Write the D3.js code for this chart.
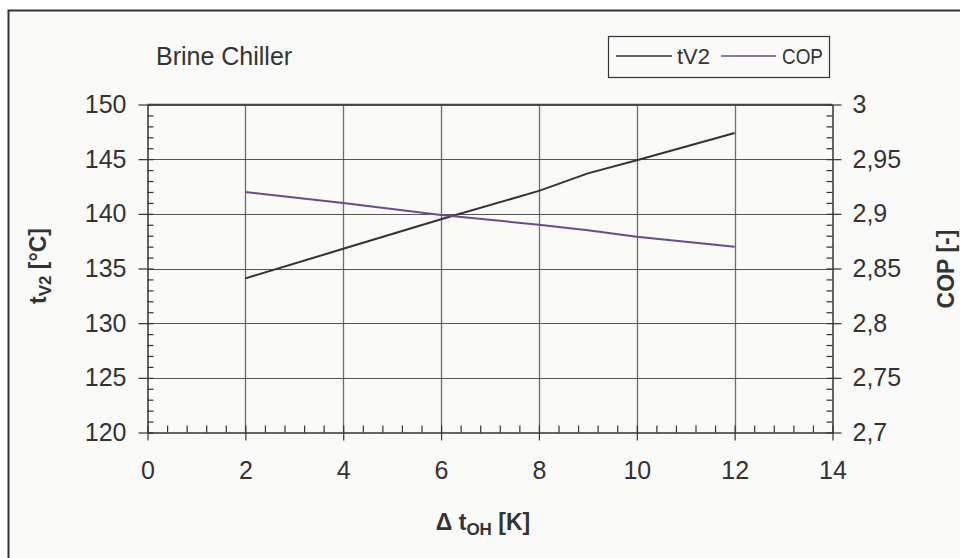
<!DOCTYPE html>
<html>
<head>
<meta charset="utf-8">
<script src="https://cdn.jsdelivr.net/npm/d3@7/dist/d3.min.js"></script>
<style>
  html, body { margin: 0; padding: 0; background: #ffffff; }
  svg { display: block; font-family: "Liberation Sans", Arial, sans-serif; }
  text { fill: #333333; }
</style>
</head>
<body>
<svg id="chart" width="960" height="558"></svg>
<script>
// Superheat Δt_OH [K] at each operating point
const superheat = [2, 4, 6, 8, 9, 10, 12];
// Discharge temperature t_V2 [°C]
const tV2 = [134.1, 136.8, 139.5, 142.1, 143.7, 144.9, 147.4];
// Coefficient of performance [-]
const cop = [2.920, 2.910, 2.899, 2.890, 2.885, 2.879, 2.870];

const xTicks = [0, 2, 4, 6, 8, 10, 12, 14];
const leftTicks = [120, 125, 130, 135, 140, 145, 150];
const rightTicks = [2.7, 2.75, 2.8, 2.85, 2.9, 2.95, 3.0];

const seriesNames = ["tV2", "COP"];
const seriesColors = ["#333333", "#6a4c8c"];

const svg = d3.select("#chart");

// outer chart frame (extends past the right and bottom edges)
svg.append("rect")
  .attr("x", 8.5).attr("y", 10.5)
  .attr("width", 1000).attr("height", 600)
  .attr("fill", "#fafaf8")
  .attr("stroke", "#333").attr("stroke-width", 2);

const plot = { left: 147.5, right: 832.5, top: 104.5, bottom: 432.5 };

const x = d3.scaleLinear().domain([0, 14]).range([plot.left, plot.right]);
const yL = d3.scaleLinear().domain([120, 150]).range([plot.bottom, plot.top]);
const yR = d3.scaleLinear().domain([2.7, 3.0]).range([plot.bottom, plot.top]);

const fmtComma = v => d3.format("~g")(+v.toFixed(2)).replace(".", ",");

// grid
const grid = svg.append("g");
grid.selectAll(".vg").data(xTicks.filter(d => d > 0 && d < 14)).join("line")
  .attr("x1", d => Math.round(x(d)) + 0.5).attr("x2", d => Math.round(x(d)) + 0.5)
  .attr("y1", plot.top).attr("y2", plot.bottom)
  .attr("stroke", "#6e6e6e").attr("stroke-width", 1.3);
grid.selectAll(".hg").data(leftTicks.filter(d => d > 120)).join("line")
  .attr("x1", plot.left).attr("x2", plot.right)
  .attr("y1", d => Math.round(yL(d)) + 0.5).attr("y2", d => Math.round(yL(d)) + 0.5)
  .attr("stroke", "#555").attr("stroke-width", 1.2);

// minor ticks (inward)
const xMinor = d3.range(0, 36).map(i => +(i * 0.4).toFixed(1));
const lMinor = d3.range(120, 151, 1);
const rMinor = d3.range(0, 31).map(i => +(2.7 + i * 0.01).toFixed(2));

function styleAxis(g) {
  g.select(".domain").attr("stroke", "#333").attr("stroke-width", 1.5);
  g.selectAll(".tick line").attr("stroke", "#333").attr("stroke-width", 1.2);
  g.selectAll("text").attr("fill", "#333").style("font-size", "25px")
    .style("font-family", "'Liberation Sans', Arial, sans-serif");
}

svg.append("g").attr("transform", `translate(0,${plot.bottom})`)
  .call(d3.axisBottom(x).tickValues(xMinor).tickSize(-7).tickFormat(""))
  .call(g => { styleAxis(g); g.select(".domain").remove(); });
svg.append("g").attr("transform", `translate(${plot.left},0)`)
  .call(d3.axisLeft(yL).tickValues(lMinor).tickSize(-6).tickFormat(""))
  .call(g => { styleAxis(g); g.select(".domain").remove(); });
svg.append("g").attr("transform", `translate(${plot.right},0)`)
  .call(d3.axisRight(yR).tickValues(rMinor).tickSize(-6).tickFormat(""))
  .call(g => { styleAxis(g); g.select(".domain").remove(); });

// major axes (outward ticks with labels)
svg.append("g").attr("transform", `translate(0,${plot.bottom})`)
  .call(d3.axisBottom(x).tickValues(xTicks).tickSize(8).tickSizeOuter(0).tickPadding(21).tickFormat(d3.format("d")))
  .call(styleAxis);
svg.append("g").attr("transform", `translate(${plot.left},0)`)
  .call(d3.axisLeft(yL).tickValues(leftTicks).tickSize(9).tickSizeOuter(0).tickPadding(12).tickFormat(d3.format("d")))
  .call(styleAxis);
svg.append("g").attr("transform", `translate(${plot.right},0)`)
  .call(d3.axisRight(yR).tickValues(rightTicks).tickSize(9).tickSizeOuter(0).tickPadding(11).tickFormat(fmtComma))
  .call(styleAxis);

// top border of plot area
svg.append("line")
  .attr("x1", plot.left).attr("x2", plot.right)
  .attr("y1", plot.top).attr("y2", plot.top)
  .attr("stroke", "#444").attr("stroke-width", 1.3);

// series
const lineT = d3.line().x((d, i) => x(superheat[i])).y(d => yL(d));
const lineC = d3.line().x((d, i) => x(superheat[i])).y(d => yR(d));
svg.append("path").datum(tV2).attr("d", lineT)
  .attr("fill", "none").attr("stroke", seriesColors[0]).attr("stroke-width", 2);
svg.append("path").datum(cop).attr("d", lineC)
  .attr("fill", "none").attr("stroke", seriesColors[1]).attr("stroke-width", 2);

// title
svg.append("text").attr("x", 156).attr("y", 65)
  .style("font-size", "25px").text("Brine Chiller");

// legend
const lg = svg.append("g");
lg.append("rect").attr("x", 608.5).attr("y", 36.5).attr("width", 221).attr("height", 41)
  .attr("fill", "#fafaf8").attr("stroke", "#333").attr("stroke-width", 1.2);
const legendItems = [
  { lx1: 616, lx2: 672, tx: 677, tw: 33 },
  { lx1: 721, lx2: 776, tx: 782, tw: 41 }
];
legendItems.forEach((it, i) => {
  lg.append("line").attr("x1", it.lx1).attr("x2", it.lx2).attr("y1", 56).attr("y2", 56)
    .attr("stroke", seriesColors[i]).attr("stroke-width", 1.5);
  lg.append("text").attr("x", it.tx).attr("y", 64)
    .attr("textLength", it.tw).attr("lengthAdjust", "spacingAndGlyphs")
    .style("font-size", "22px").text(seriesNames[i]);
});

// axis titles
const xt = svg.append("text").attr("x", 483).attr("y", 530)
  .attr("text-anchor", "middle").style("font-size", "23px").style("font-weight", "bold");
xt.append("tspan").text("Δ t");
xt.append("tspan").attr("dy", 5).style("font-size", "17px").text("OH");
xt.append("tspan").attr("dy", -5).text(" [K]");

const yt = svg.append("text")
  .attr("transform", "translate(46,266) rotate(-90)")
  .attr("text-anchor", "middle").style("font-size", "23px").style("font-weight", "bold");
yt.append("tspan").text("t");
yt.append("tspan").attr("dy", 5).style("font-size", "17px").text("V2");
yt.append("tspan").attr("dy", -5).text(" [°C]");

svg.append("text")
  .attr("transform", "translate(954,269) rotate(-90)")
  .attr("text-anchor", "middle").style("font-size", "23px").style("font-weight", "bold")
  .text("COP [-]");
</script>
</body>
</html>
